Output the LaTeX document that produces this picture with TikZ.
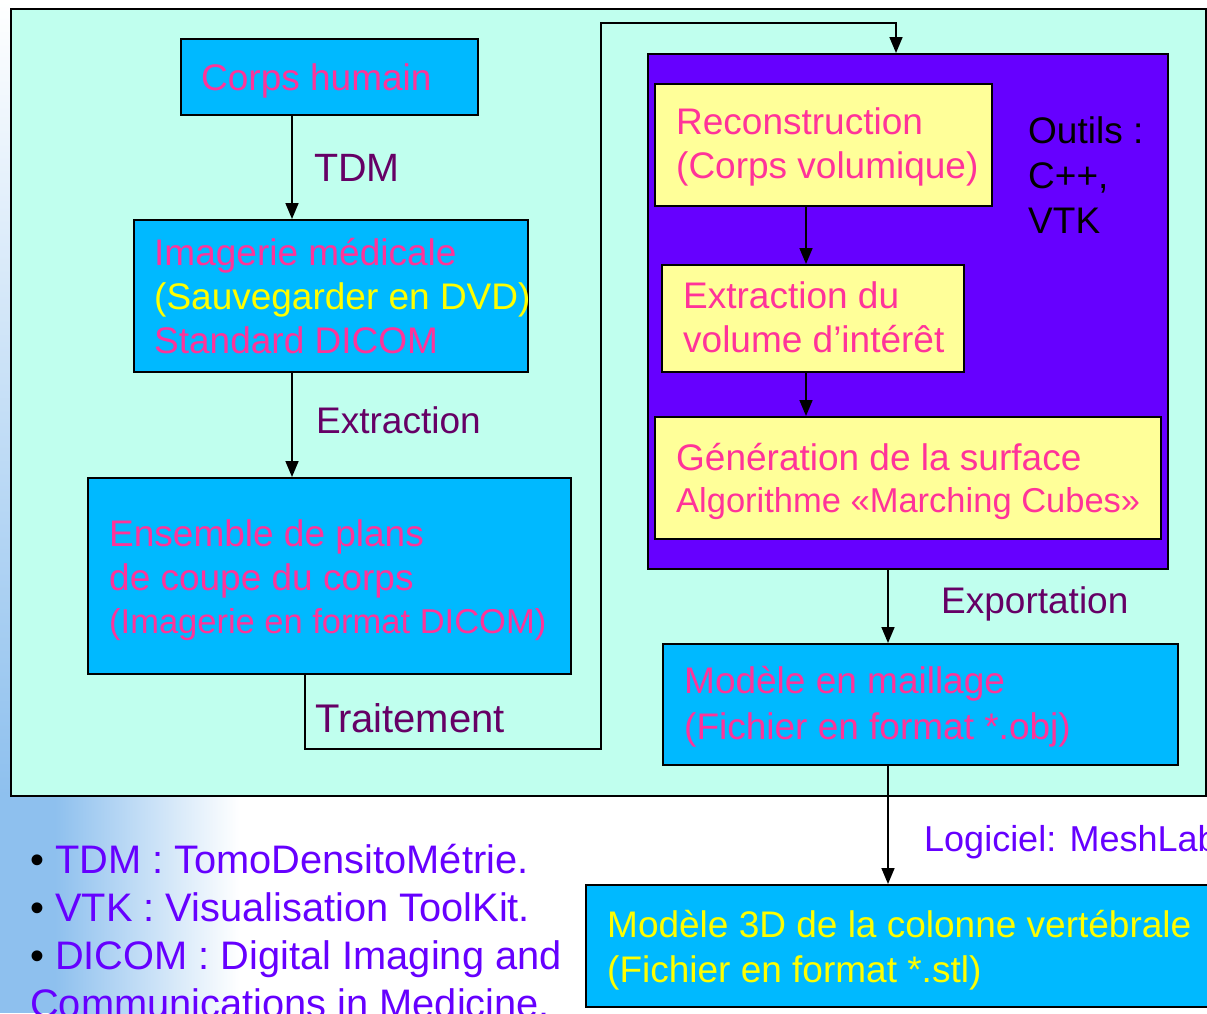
\documentclass[tikz,border=0pt]{standalone}
\usepackage{fontspec}
\setmainfont{Liberation Sans}
\usetikzlibrary{arrows.meta}
\definecolor{mint}{RGB}{192,255,238}
\definecolor{boxblue}{RGB}{0,185,255}
\definecolor{boxyellow}{RGB}{255,255,153}
\definecolor{boxpurple}{RGB}{102,0,255}
\definecolor{pinkt}{RGB}{255,51,153}
\definecolor{yellowt}{RGB}{255,255,0}
\definecolor{labt}{RGB}{102,0,102}
\definecolor{violett}{RGB}{102,0,255}
\definecolor{bgblue}{RGB}{142,192,238}
\tikzset{
  bbox/.style={draw=black, line width=2pt, fill=boxblue, inner sep=0pt, anchor=north west},
  ybox/.style={draw=black, line width=2pt, fill=boxyellow, inner sep=0pt, anchor=north west},
  ttx/.style={font=\fontsize{37}{44}\selectfont, align=left, inner sep=0pt, anchor=base west},
  lab/.style={font=\fontsize{37}{44}\selectfont, text=labt, inner sep=0pt, anchor=base west},
  arr/.style={line width=1.7pt, -{Triangle[length=16pt,width=13pt]}},
}
\begin{document}
\begin{tikzpicture}[x=1pt,y=-1pt]
\useasboundingbox (0,0) rectangle (1207,1013);
\clip (0,0) rectangle (1207,1013);
% background
\fill[white] (0,0) rectangle (1207,1013);
\fill[bgblue] (0,795) rectangle (55,1013);
\shade[left color=bgblue, right color=white] (55,795) rectangle (240,1013);
\shade[top color=white, bottom color=bgblue] (0,0) rectangle (10,795);
% main frame
\node[draw=black, line width=2pt, fill=mint, inner sep=0pt, anchor=north west,
      minimum width=1195, minimum height=787] (frame) at (10,8) {};
% left column boxes
\node[bbox, minimum width=297, minimum height=76] (corps) at (180,38) {};
\node[bbox, minimum width=394, minimum height=152] (imag) at (133,219) {};
\node[bbox, minimum width=483, minimum height=196] (ens) at (87,477) {};
% purple block
\node[draw=black, line width=2pt, fill=boxpurple, inner sep=0pt, anchor=north west,
      minimum width=520, minimum height=515] (purple) at (647,53) {};
\node[ybox, minimum width=337, minimum height=122] (recon) at (654,83) {};
\node[ybox, minimum width=302, minimum height=107] (extr) at (661,264) {};
\node[ybox, minimum width=506, minimum height=122] (gen) at (654,416) {};
% right lower boxes
\node[bbox, minimum width=515, minimum height=121] (maill) at (662,643) {};
\node[bbox, minimum width=645, minimum height=122] (m3d) at (585,884) {};
% connectors
\draw[arr] (292,0 |- corps.south) -- (292,0 |- imag.north);
\draw[arr] (292,0 |- imag.south) -- (292,0 |- ens.north);
\draw[arr] (305,0 |- ens.south) -- (305,749) -- (601,749) -- (601,23) -- (896,23) -- (896,0 |- purple.north);
\draw[arr] (806,0 |- recon.south) -- (806,0 |- extr.north);
\draw[arr] (806,0 |- extr.south) -- (806,0 |- gen.north);
\draw[arr] (888,0 |- purple.south) -- (888,0 |- maill.north);
\draw[arr] (888,0 |- maill.south) -- (888,0 |- m3d.north);
% box texts (anchor = baseline of the last line)
\node[ttx, text=pinkt] (corpsT) at (201,90) {Corps humain};
\node[ttx] (imagT) at (154,353) {\textcolor{pinkt}{Imagerie médicale}\\ \textcolor{yellowt}{(Sauvegarder en DVD)}\\ \textcolor{pinkt}{Standard DICOM}};
\node[ttx, text=pinkt] (ensT) at (109,633) {Ensemble de plans\\ de coupe du corps\\[-1pt] {\fontsize{34.5}{42}\selectfont (Imagerie en format DICOM)}};
\node[ttx, text=pinkt] (reconT) at (676,178) {Reconstruction\\ (Corps volumique)};
\node[ttx, text=pinkt] (extrT) at (683,352) {Extraction du\\ volume d’intérêt};
\node[ttx, text=pinkt] (genT) at (676,512) {Génération de la surface\\[-2pt] {\fontsize{34.5}{42}\selectfont Algorithme «Marching Cubes»}};
\node[ttx, text=black, font=\fontsize{37}{45}\selectfont] (outils) at (1028,233) {Outils :\\ C++,\\ VTK};
\node[ttx, text=pinkt, font=\fontsize{37}{46}\selectfont] (maillT) at (684,739) {Modèle en maillage\\ (Fichier en format *.obj)};
\node[ttx, text=yellowt, font=\fontsize{37}{45}\selectfont] (m3dT) at (607,982) {Modèle 3D de la colonne vertébrale\\ (Fichier en format *.stl)};
% connector labels
\node[lab, font=\fontsize{39.5}{45}\selectfont] (tdm) at (314,181) {TDM};
\node[lab] (extlab) at (316,433) {Extraction};
\node[lab, font=\fontsize{40}{45}\selectfont] (trait) at (315,732) {Traitement};
\node[lab] (expo) at (941,613) {Exportation};
\node[inner sep=0pt, anchor=base west, text=violett, font=\fontsize{36}{44}\selectfont] (logi) at (924,851) {Logiciel: MeshLab};
% legend
\node[inner sep=0pt, anchor=base west, align=left, font=\fontsize{39.8}{48}\selectfont] (legend) at (30,1017)
  {• \textcolor{violett}{TDM : TomoDensitoMétrie.}\\ • \textcolor{violett}{VTK : Visualisation ToolKit.}\\ • \textcolor{violett}{DICOM : Digital Imaging and}\\ \textcolor{violett}{Communications in Medicine.}};
\end{tikzpicture}
\end{document}
